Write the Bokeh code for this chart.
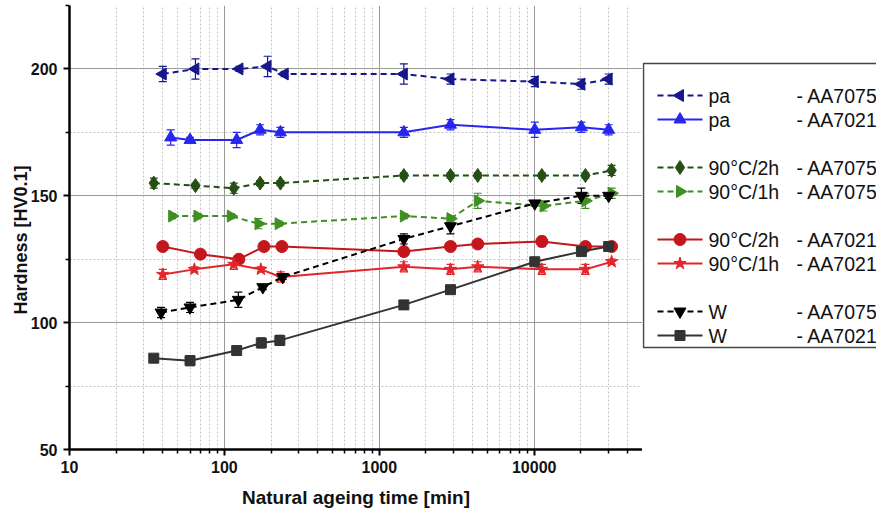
import math
from bokeh.plotting import figure
from bokeh.layouts import row
from bokeh.models import (ColumnDataSource, Whisker, TeeHead, FixedTicker,
                          NumeralTickFormatter, Range1d)
from bokeh.core.properties import value
from bokeh.embed import file_html
from bokeh.resources import INLINE

# ---------------- data ----------------
t_pa75 = [40, 65, 125, 190, 245, 1440, 2880, 10080, 20160, 30240]
hv_pa75 = [198, 200, 200, 201, 198, 198, 196, 195, 194, 196]
err_pa75 = [3, 4, 1, 4, 1, 4, 2, 2, 2, 2]

t_pa21 = [45, 60, 120, 170, 230, 1440, 2880, 10080, 20160, 30240]
hv_pa21 = [173, 172, 172, 176, 175, 175, 178, 176, 177, 176]
err_pa21 = [3, 1, 3, 2, 2, 2, 2, 3, 2, 2]

t_g2h75 = [35, 65, 115, 170, 230, 1440, 2880, 4320, 11200, 21400, 31600]
hv_g2h75 = [155, 154, 153, 155, 155, 158, 158, 158, 158, 158, 160]
err_g2h75 = [2, 1, 2, 1, 1, 1, 1, 1, 1, 1, 2]

t_g1h75 = [46, 67, 110, 166, 224, 1440, 2880, 4320, 11500, 21400, 31600]
hv_g1h75 = [142, 142, 142, 139, 139, 142, 141, 148, 146, 148, 151]
err_g1h75 = [1, 1, 1, 2, 1, 1, 1, 3, 2, 3, 2]

t_r2h21 = [40, 70, 124, 180, 235, 1440, 2880, 4320, 11200, 21400, 31600]
hv_r2h21 = [130, 127, 125, 130, 130, 128, 130, 131, 132, 130, 130]
err_r2h21 = [1, 1, 1, 1, 1, 1, 1, 1, 2, 1, 1]

t_r1h21 = [40, 64, 115, 172, 231, 1440, 2880, 4320, 11200, 21400, 31600]
hv_r1h21 = [119, 121, 123, 121, 118, 122, 121, 122, 121, 121, 124]
err_r1h21 = [2, 1, 2, 1, 2, 2, 2, 2, 2, 2, 1]

t_w75 = [39, 60, 123, 177, 238, 1440, 2880, 10080, 20160, 30240]
hv_w75 = [104, 106, 109, 114, 118, 133, 138, 147, 150, 150]
err_w75 = [2, 2, 3, 1, 1, 2, 3, 1, 3, 1]

t_w21 = [35, 60, 120, 173, 228, 1440, 2880, 10080, 20160, 30240]
hv_w21 = [86, 85, 89, 92, 93, 107, 113, 124, 128, 130]
err_w21 = [1, 2, 1, 2, 2, 1, 1, 1, 1, 1]

x_major_ticks = [10, 100, 1000, 10000]
x_minor_ticks = [20, 30, 40, 50, 60, 70, 80, 90,
                 200, 300, 400, 500, 600, 700, 800, 900,
                 2000, 3000, 4000, 5000, 6000, 7000, 8000, 9000,
                 20000, 30000, 40000]
y_major_ticks = [50, 100, 150, 200]
y_minor_ticks = [75, 125, 175, 225]

legend_treatments = ["pa", "pa", "90°C/2h", "90°C/1h", "90°C/2h", "90°C/1h", "W", "W"]
legend_alloys = ["- AA7075", "- AA7021", "- AA7075", "- AA7075",
                 "- AA7021", "- AA7021", "- AA7075", "- AA7021"]

# ---------------- styles ----------------
series = [
    (t_pa75, hv_pa75, err_pa75, "#17178c", "dashed", "triangle", math.pi / 2, 12),
    (t_pa21, hv_pa21, err_pa21, "#2626ee", "solid", "triangle", 0.0, 12),
    (t_g2h75, hv_g2h75, err_g2h75, "#254f14", "dashed", "diamond", 0.0, 14),
    (t_g1h75, hv_g1h75, err_g1h75, "#3f8f22", "dashed", "triangle", -math.pi / 2, 12),
    (t_r2h21, hv_r2h21, err_r2h21, "#c3161d", "solid", "circle", 0.0, 12),
    (t_r1h21, hv_r1h21, err_r1h21, "#e3262c", "solid", "star", 0.0, 13),
    (t_w75, hv_w75, err_w75, "#000000", "dashed", "inverted_triangle", 0.0, 12),
    (t_w21, hv_w21, err_w21, "#333333", "solid", "square", 0.0, 10),
]
DASH = "6 4"
FONT = "Liberation Sans"

# ---------------- main plot ----------------
FR_TOP, FR_BOTTOM = 5, 449          # frame edges (px from the top of the page)
p = figure(width=642, height=516, x_axis_type="log",
           x_range=Range1d(10, 50000), y_range=Range1d(50, 225),
           output_backend="svg", toolbar_location=None,
           min_border_left=69, min_border_right=0, min_border_top=FR_TOP,
           min_border_bottom=516 - FR_BOTTOM)
p.outline_line_color = None
p.background_fill_color = "white"

for ax in (p.xaxis[0], p.yaxis[0]):
    ax.axis_line_width = 2.5
    ax.axis_line_color = "black"
    ax.major_tick_line_width = 2
    ax.major_tick_line_color = "black"
    ax.minor_tick_line_width = 1.5
    ax.minor_tick_line_color = "black"
    ax.major_tick_in = 0
    ax.major_tick_out = 6
    ax.minor_tick_in = 0
    ax.minor_tick_out = 4
    ax.major_label_text_font = FONT
    ax.major_label_text_font_style = "bold"
    ax.major_label_text_font_size = "16px"
    ax.major_label_text_color = "#111111"
    ax.axis_label_text_font = FONT
    ax.axis_label_text_font_style = "bold"
    ax.axis_label_text_font_size = "19px"
    ax.axis_label_text_color = "#111111"

p.xaxis.ticker = FixedTicker(ticks=x_major_ticks, minor_ticks=x_minor_ticks)
p.xaxis.formatter = NumeralTickFormatter(format="0")
p.xaxis.major_label_standoff = 5
p.xaxis.axis_label = "Natural ageing time [min]"
p.xaxis.axis_label_standoff = 11

p.yaxis.ticker = FixedTicker(ticks=y_major_ticks, minor_ticks=y_minor_ticks)
p.yaxis.major_label_standoff = 6
# trailing no-break spaces nudge the centred title a little downwards, as in the reference
p.yaxis.axis_label = "Hardness [HV0.1]" + "\u00a0" * 5
p.yaxis.axis_label_standoff = -3
p.yaxis.axis_label_text_font_size = "18px"

for g in (p.xgrid[0], p.ygrid[0]):
    g.grid_line_color = "#9a9a9a"
    g.grid_line_width = 1
    g.minor_grid_line_color = "#c4c4c4"
    g.minor_grid_line_dash = "2 2"
    g.minor_grid_line_width = 1
p.xgrid.ticker = p.xaxis[0].ticker
p.ygrid.ticker = p.yaxis[0].ticker

for (tx, hv, er, col, dash, mk, ang, sz) in series:
    src = ColumnDataSource(dict(x=tx, y=hv,
                                lo=[v - e for v, e in zip(hv, er)],
                                hi=[v + e for v, e in zip(hv, er)]))
    p.add_layout(Whisker(source=src, base="x", lower="lo", upper="hi",
                         dimension="height", line_color=col, line_width=1.2,
                         upper_head=TeeHead(size=8, line_color=col, line_width=1.2),
                         lower_head=TeeHead(size=8, line_color=col, line_width=1.2)))
    p.line("x", "y", source=src, line_color=col, line_width=2,
           line_dash=(DASH if dash == "dashed" else "solid"))
    p.scatter("x", "y", source=src, marker=mk, size=sz, angle=ang,
              fill_color=col, line_color=col, line_width=1)

# ---------------- legend panel (its own small figure, no axes) ----------------
# In a row, Bokeh aligns the frames, so this frame spans FR_TOP..FR_BOTTOM;
# its y coordinate is minus the pixel row from the page top.
LW = 234
lg = figure(width=LW, height=516, x_range=Range1d(0, LW),
            y_range=Range1d(-FR_BOTTOM, -FR_TOP),
            output_backend="svg", toolbar_location=None, min_border=0,
            x_axis_location=None, y_axis_location=None)
lg.grid.visible = False
lg.outline_line_color = None

box_top, box_bottom = 63, 347
lg.quad(left=1, right=LW + 20, top=-box_top, bottom=-box_bottom,
        fill_color="white", line_color="#444444", line_width=1.5)

row_idx = [0, 1, 3, 4, 6, 7, 9, 10]
gx0, gx1, tx1, tx2 = 15, 60, 66, 154
for k, (s, i) in enumerate(zip(series, row_idx)):
    _, _, _, col, dash, mk, ang, sz = s
    yy = -(95 + 24 * i)
    lg.line([gx0, gx1], [yy, yy], line_color=col, line_width=2,
            line_dash=(DASH if dash == "dashed" else "solid"))
    lg.scatter([(gx0 + gx1) / 2], [yy], marker=mk, size=sz, angle=ang,
               fill_color=col, line_color=col)
    lg.text(x=[tx1], y=[yy], text=[legend_treatments[k]], text_font=value(FONT),
            text_font_size="19.5px", text_color="#111111", text_baseline="middle")
    lg.text(x=[tx2], y=[yy], text=[legend_alloys[k]], text_font=value(FONT),
            text_font_size="19.5px", text_color="#111111", text_baseline="middle")

layout = row(p, lg, spacing=0)
open("out.html", "w").write(file_html(layout, INLINE))
